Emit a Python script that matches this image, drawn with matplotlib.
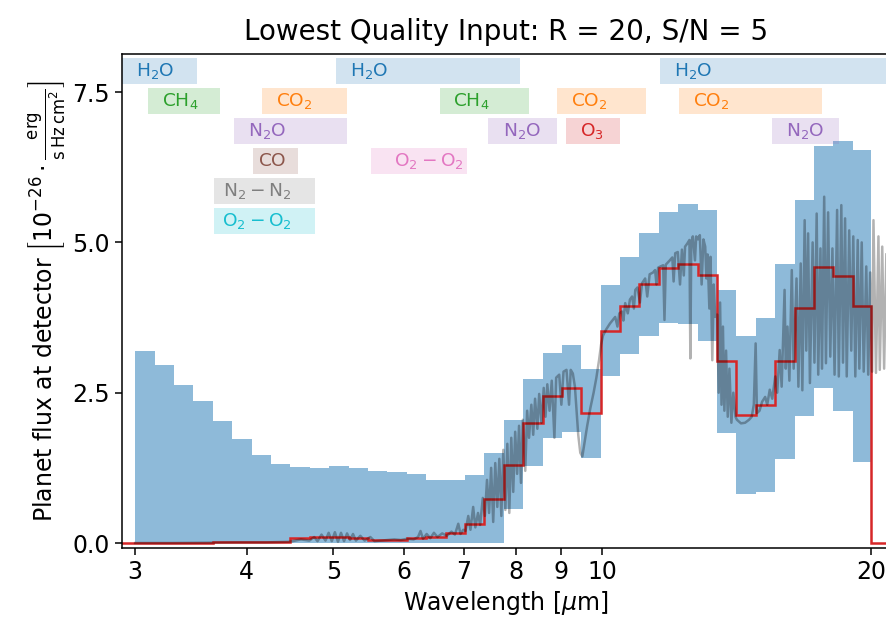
import numpy as np
import matplotlib
matplotlib.use("Agg")
import matplotlib.pyplot as plt
from matplotlib.ticker import FixedLocator, NullLocator

# R = 20 bin edges [micron]
bin_edges = [3.000, 3.154, 3.316, 3.485, 3.664, 3.852, 4.050, 4.257, 4.475, 4.705,
             4.946, 5.200, 5.466, 5.747, 6.041, 6.351, 6.677, 7.019, 7.379, 7.757,
             8.155, 8.573, 9.013, 9.475, 9.960, 10.471, 11.008, 11.572, 12.166, 12.789,
             13.445, 14.134, 14.859, 15.621, 16.422, 17.264, 18.149, 19.079, 20.000]

# binned planet flux and 1-sigma noise per bin
flux = [0.00, 0.00, 0.00, 0.005, 0.01, 0.02, 0.01, 0.01, 0.08, 0.095,
        0.105, 0.08, 0.05, 0.05, 0.08, 0.105, 0.16, 0.31, 0.73, 1.30,
        2.00, 2.45, 2.57, 2.16, 3.53, 3.95, 4.30, 4.58, 4.64, 4.45,
        3.02, 2.13, 2.30, 3.02, 3.91, 4.59, 4.44, 3.94]
sigma = [3.19, 2.96, 2.62, 2.35, 2.02, 1.71, 1.46, 1.30, 1.18, 1.16,
         1.17, 1.16, 1.15, 1.13, 1.06, 0.95, 0.88, 0.82, 0.76, 0.74,
         0.72, 0.71, 0.72, 0.74, 0.76, 0.80, 0.85, 0.92, 1.00, 1.09,
         1.19, 1.32, 1.45, 1.62, 1.80, 2.01, 2.25, 2.60]

# high resolution input spectrum
hires_wl = [3.00, 3.30, 3.60, 3.90, 4.20, 4.45,
            4.50, 4.60, 4.70, 4.76, 4.80, 4.85, 4.90, 4.94, 4.98, 5.02, 5.06, 5.10, 5.14,
            5.18, 5.22, 5.26, 5.30, 5.36, 5.42, 5.50, 5.56,
            5.65, 5.75, 5.85, 5.95, 6.05, 6.15, 6.22, 6.26, 6.30, 6.36, 6.42, 6.48, 6.54,
            6.62, 6.70, 6.78, 6.84, 6.90, 6.94, 6.99,
            7.03, 7.08, 7.12, 7.17, 7.21, 7.26, 7.30, 7.35, 7.39, 7.43, 7.47, 7.51, 7.55,
            7.59, 7.63, 7.67, 7.71, 7.75, 7.79,
            7.83, 7.87, 7.91, 7.95, 7.99, 8.03, 8.07, 8.11, 8.15, 8.20, 8.24, 8.28, 8.33,
            8.37, 8.41, 8.46, 8.50, 8.55, 8.60, 8.64, 8.68, 8.73, 8.78, 8.84, 8.88, 8.95,
            9.00, 9.05, 9.12, 9.18, 9.22, 9.27, 9.32, 9.36, 9.40, 9.45, 9.50, 9.55, 9.62,
            9.70, 9.78, 9.85, 9.92, 9.97, 10.02,
            10.10, 10.20, 10.34, 10.40, 10.45, 10.52, 10.56, 10.61, 10.68, 10.74, 10.80,
            10.85, 10.89, 10.95, 11.02, 11.08, 11.17, 11.23, 11.30, 11.40, 11.46, 11.50,
            11.55, 11.62, 11.70, 11.74, 11.78, 11.90, 11.98, 12.02, 12.07, 12.15, 12.22,
            12.28, 12.34, 12.38, 12.45, 12.52, 12.55, 12.58, 12.63, 12.70, 12.74, 12.80,
            12.86, 12.92, 12.98, 13.04, 13.08, 13.12, 13.18, 13.22, 13.28, 13.33, 13.38,
            13.45, 13.50, 13.55, 13.60, 13.65, 13.70, 13.76, 13.82, 13.88, 13.95, 14.02,
            14.10,
            14.15, 14.30, 14.45, 14.60, 14.70, 14.78, 14.85, 14.90, 15.00, 15.10, 15.22,
            15.30, 15.40, 15.50, 15.62, 15.70, 15.80, 15.88, 15.95, 16.00, 16.05, 16.12,
            16.20, 16.30, 16.38, 16.50, 16.58, 16.68, 16.75, 16.85, 16.92, 17.00, 17.08,
            17.20, 17.28, 17.38, 17.45, 17.55, 17.62, 17.72, 17.80, 17.90, 18.00, 18.10,
            18.20, 18.32, 18.40, 18.52, 18.60, 18.70, 18.78, 18.90, 19.00, 19.10, 19.20,
            19.32, 19.40, 19.52, 19.62, 19.75, 19.85, 19.95, 20.05, 20.12, 20.25, 20.38,
            20.45, 20.58, 20.68, 20.80]
hires_flux = [0.00, 0.00, 0.005, 0.01, 0.01, 0.02,
              0.03, 0.06, 0.04, 0.10, 0.03, 0.14, 0.04, 0.17, 0.03, 0.18, 0.02, 0.17, 0.03,
              0.16, 0.05, 0.15, 0.04, 0.12, 0.04, 0.10, 0.03,
              0.04, 0.05, 0.06, 0.05, 0.07, 0.06, 0.10, 0.20, 0.07, 0.15, 0.08, 0.17, 0.10,
              0.16, 0.12, 0.19, 0.14, 0.32, 0.15, 0.22,
              0.20, 0.45, 0.22, 0.60, 0.26, 0.50, 0.30, 0.75, 0.45, 1.05, 0.50, 1.25, 0.35,
              1.33, 0.60, 1.40, 0.45, 1.55, 0.55,
              1.65, 0.50, 1.75, 0.85, 1.85, 1.15, 1.95, 1.00, 2.05, 1.20, 2.20, 1.75, 2.30,
              1.80, 2.40, 1.90, 2.48, 2.00, 2.58, 2.10, 2.64, 2.20, 2.70, 1.75, 2.75, 2.80,
              2.30, 2.85, 2.88, 2.30, 2.88, 2.82, 2.60, 2.20, 1.80, 1.50, 1.44, 1.65, 1.95,
              2.25, 2.50, 2.75, 3.05, 3.30, 3.45,
              3.55, 3.65, 3.76, 3.60, 3.82, 3.85, 3.70, 3.99, 3.82, 4.05, 4.10,
              3.90, 4.21, 4.25, 4.00, 4.32, 4.40, 4.10, 4.47, 4.50, 4.54, 4.30,
              4.58, 4.60, 4.62, 3.71, 4.63, 4.70, 4.75, 4.35, 4.82, 4.84, 4.30,
              4.88, 4.45, 4.93, 4.98, 5.04, 3.07, 5.00, 5.10, 4.70, 5.10, 5.05,
              5.12, 4.30, 5.05, 4.93, 4.40, 4.80, 3.90, 4.76, 3.04, 4.30, 3.76,
              3.80, 2.50, 4.00, 2.30, 3.60, 2.20, 3.20, 2.10, 2.90, 2.00, 2.50,
              2.10,
              2.05, 1.99, 2.00, 2.05, 2.10, 2.30, 3.32, 2.16, 2.20, 2.35, 2.43,
              2.30, 2.55, 2.40, 2.77, 2.50, 3.21, 2.60, 3.54, 4.21, 2.90, 3.60,
              2.70, 4.54, 2.90, 4.40, 2.60, 4.65, 2.54, 5.37, 3.20, 5.15, 2.66,
              5.00, 3.00, 5.48, 2.80, 4.90, 2.90, 5.76, 2.99, 5.50, 3.10, 4.90,
              2.80, 5.54, 2.77, 5.62, 3.00, 5.40, 2.77, 5.20, 3.20, 5.10, 2.77,
              5.04, 2.90, 5.00, 2.85, 4.60, 2.80, 4.50, 2.85, 5.37, 2.83, 5.10,
              2.88, 4.93, 2.90, 4.80]

# absorption band annotations
band_names = [r'$\mathrm{H_2O}$', r'$\mathrm{H_2O}$', r'$\mathrm{H_2O}$',
              r'$\mathrm{CH_4}$', r'$\mathrm{CO_2}$', r'$\mathrm{CH_4}$',
              r'$\mathrm{CO_2}$', r'$\mathrm{CO_2}$',
              r'$\mathrm{N_2O}$', r'$\mathrm{N_2O}$', r'$\mathrm{O_3}$', r'$\mathrm{N_2O}$',
              r'$\mathrm{CO}$', r'$\mathrm{O_2-O_2}$',
              r'$\mathrm{N_2-N_2}$', r'$\mathrm{O_2-O_2}$']
band_start = [2.9, 5.04, 11.61, 3.10, 4.16, 6.58, 8.90, 12.19,
              3.87, 7.45, 9.11, 15.48, 4.07, 5.51, 3.68, 3.68]
band_end = [3.52, 8.09, 30.0, 3.73, 5.18, 8.28, 11.19, 17.61,
            5.18, 8.91, 10.46, 18.43, 4.56, 7.05, 4.77, 4.77]
band_row = [0, 0, 0, 1, 1, 1, 1, 1, 2, 2, 2, 2, 3, 3, 4, 5]
band_color = ['tab:blue', 'tab:blue', 'tab:blue', 'tab:green', 'tab:orange', 'tab:green',
              'tab:orange', 'tab:orange', 'tab:purple', 'tab:purple', 'tab:red', 'tab:purple',
              'tab:brown', 'tab:pink', 'tab:gray', 'tab:cyan']
label_pad = [14, 14, 14, 14, 14, 13, 14, 14, 14, 15, 14, 14, 5, 23, 9, 8]

plt.rcParams['font.size'] = 17

fig = plt.figure(figsize=(8.86, 6.24), dpi=100)
ax = fig.add_axes([0.1377, 0.1218, 0.8669, 0.7917])

edges = np.array(bin_edges)
f = np.array(flux)
s = np.array(sigma)
upper = f + s
lower = np.clip(f - s, 0, None)

ax.stairs(upper, edges, baseline=lower, fill=True, color='tab:blue', alpha=0.5, lw=0)
ax.plot(hires_wl, hires_flux, color='k', alpha=0.3, lw=1.8)
ax.stairs(np.r_[0.0, f, 0.0], np.r_[2.0, edges, 30.0], color='tab:red', lw=1.8)

row_y0 = 7.85
row_step = 0.5
row_h = 0.43
for name, x0, x1, r, c, pad in zip(band_names, band_start, band_end, band_row,
                                   band_color, label_pad):
    yc = row_y0 - r * row_step
    ax.fill_between([x0, x1], yc - row_h / 2, yc + row_h / 2, color=c, alpha=0.2, lw=0)
    ax.annotate(name, xy=(x0, yc), xytext=(pad, 0), textcoords='offset pixels',
                color=c, fontsize=13.3, ha='left', va='center')

ax.set_xscale('log')
ax.set_xlim(2.9, 21.0)
ax.set_ylim(-0.083, 8.134)
ax.xaxis.set_major_locator(FixedLocator([3, 4, 5, 6, 7, 8, 9, 10, 20]))
ax.xaxis.set_minor_locator(NullLocator())
ax.set_xticklabels(['3', '4', '5', '6', '7', '8', '9', '10', '20'])
ax.set_yticks([0, 2.5, 5.0, 7.5])
ax.tick_params(width=1.1, length=5)
for sp in ax.spines.values():
    sp.set_linewidth(1.1)

ax.set_xlabel(r'Wavelength [$\mu$m]')
ax.set_ylabel(r'Planet flux at detector $\left[10^{-26}\cdot\frac{\mathrm{erg}}{\mathrm{s\,Hz\,cm^2}}\right]$')
ax.set_title('Lowest Quality Input: R = 20, S/N = 5', fontsize=20, pad=10)

fig.savefig('out.png', dpi=100)
